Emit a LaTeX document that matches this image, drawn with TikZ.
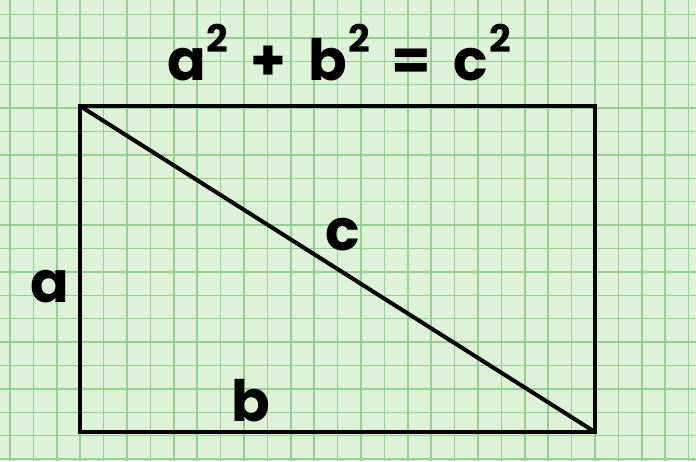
\documentclass[tikz,border=0pt]{standalone}
\usepackage{fontspec}
\setmainfont{Poppins}
\definecolor{paper}{RGB}{222,242,216}
\definecolor{gridc}{RGB}{150,206,150}
\newcommand\supsq{\hspace{1pt}\raisebox{28pt}{\fontsize{38}{38}\selectfont 2}}
\newcommand\opgap{\hspace{22pt}}
\begin{document}
\begin{tikzpicture}[x=1pt,y=-1pt,
  lbl/.style={inner sep=0pt, font=\fontsize{57}{57}\selectfont\bfseries},
  edge/.style={line width=4pt, black}]
\fill[paper] (0,0) rectangle (696,461);
\useasboundingbox (0,0) rectangle (696,461);
\foreach \i in {0,...,29} {\draw[gridc, line width=1.5pt] ({10+23.4*\i},0) -- ({10+23.4*\i},461);}
\foreach \j in {0,...,19} {\draw[gridc, line width=1.5pt] (0,{14.5+23.4*\j}) -- (696,{14.5+23.4*\j});}
\coordinate (tl) at (80,106);
\coordinate (tr) at (595,106);
\coordinate (br) at (595,432);
\coordinate (bl) at (80,432);
\draw[edge, line join=miter] (tl) -- (tr) -- (br) -- (bl) -- cycle;
\draw[edge] (tl) -- (br);
\node[lbl, anchor=base] (eq) at (339,80) {a\supsq\opgap+\opgap b\supsq\opgap=\opgap c\supsq};
\node[lbl, anchor=base] (la) at (50,302) {a};
\node[lbl, anchor=base] (lb) at (251,421) {b};
\node[lbl, anchor=base] (lc) at (343,250) {c};
\end{tikzpicture}
\end{document}
